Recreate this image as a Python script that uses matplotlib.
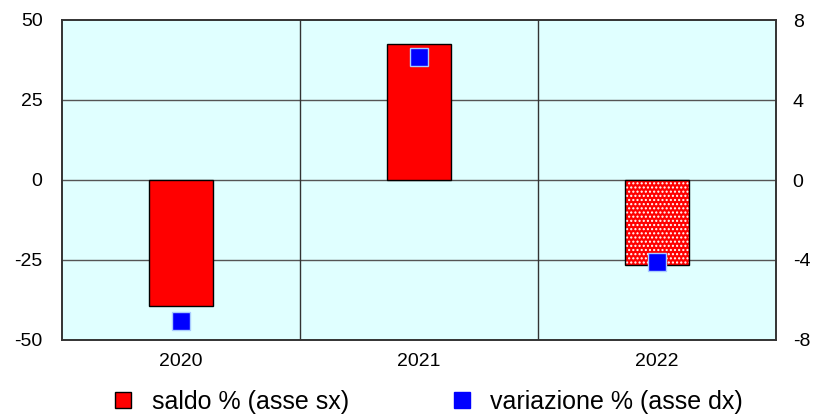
import matplotlib.pyplot as plt
from matplotlib.lines import Line2D

plt.rcParams['font.family'] = ['Liberation Sans', 'DejaVu Sans']
plt.rcParams['axes.unicode_minus'] = False

years = ['2020', '2021', '2022']
saldo = [-39.4, 42.5, -26.6]        # asse sx
variazione = [-7.05, 6.15, -4.1]    # asse dx

fig = plt.figure(figsize=(8.18, 4.15), dpi=100)
ax = fig.add_axes([62 / 818, 75 / 415, 714 / 818, 320 / 415])
ax2 = ax.twinx()

x = range(len(years))
ax.set_facecolor('#e0ffff')
for i, v in enumerate(saldo):
    if years[i] == '2022':
        # stima: dotted fill
        ax.bar(i, v, width=0.27, color='red', edgecolor='white', linewidth=0,
               hatch='....', zorder=3)
        ax.bar(i, v, width=0.27, fill=False, edgecolor='black', linewidth=1, zorder=3)
    else:
        ax.bar(i, v, width=0.27, color='red', edgecolor='black', linewidth=1, zorder=3)

ax.set_xlim(-0.5, 2.5)
ax.set_ylim(-50, 50)
ax.set_yticks([-50, -25, 0, 25, 50])
ax.set_xticks(list(x))
ax.set_xticklabels(years)
for y in [-25, 0, 25]:
    ax.axhline(y, color='#555555', linewidth=1, zorder=1)
for b in [0.5, 1.5]:
    ax.axvline(b, color='#333333', linewidth=1, zorder=1)

ax2.plot(list(x), variazione, 's', color='blue', markersize=13,
         markeredgecolor='#aaccff', markeredgewidth=1, zorder=4)
ax2.set_ylim(-8, 8)
ax2.set_yticks([-8, -4, 0, 4, 8])

for a in (ax, ax2):
    a.tick_params(length=0, labelsize=14)
    for s in a.spines.values():
        s.set_color('#333333')
        s.set_linewidth(1.2)
ax.tick_params(axis='y', pad=14)
ax2.tick_params(axis='y', pad=12)
ax.tick_params(axis='x', pad=9)

handles = [
    Line2D([], [], marker='s', linestyle='none', color='red', markeredgecolor='black',
           markersize=12),
    Line2D([], [], marker='s', linestyle='none', color='blue', markersize=12),
]
fig.legend(handles, ['saldo % (asse sx)', 'variazione % (asse dx)'],
           loc='lower center', bbox_to_anchor=(0.522, -0.052), ncol=2, frameon=False,
           fontsize=18, columnspacing=4.0, handlelength=1.0, handletextpad=0.65)

fig.savefig('out.png', dpi=100)
